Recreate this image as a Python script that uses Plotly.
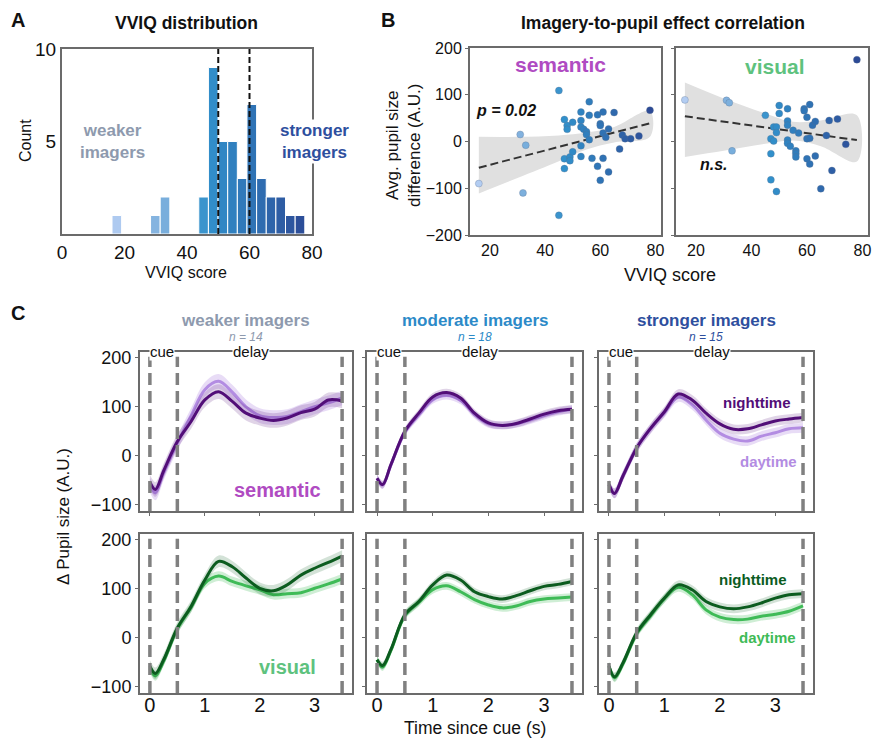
import plotly.graph_objects as go

W, H = 872, 738
FONT = "Liberation Sans, Arial, sans-serif"

# ---------------- Panel A data: VVIQ histogram ----------------
vviq_bin_start = 16.0
vviq_bin_width = 3.085
vviq_counts = [1, 0, 0, 0, 1, 2, 0, 0, 0, 2, 9, 5, 5, 3, 7, 3, 2, 2, 1, 1]
group_cutoffs = [50, 60]

# ---------------- Panel B data: scatter + regression ----------------
sem_vviq = [16, 31, 33, 32, 45, 45, 47, 48, 48, 47, 47, 49, 49, 50, 50, 53, 53, 53, 54, 55,
            55, 53, 53, 56, 56, 56, 57, 59, 59, 60, 60, 60, 61, 61, 61, 62, 63, 63, 65, 67,
            68, 69, 71, 74, 78]
sem_diff = [-90, 15, -8, -110, 109, -158, 47, 34, 26, -37, -58, -33, -41, 41, -22, 63, 45, 31, 26, 21,
            15, -9, -32, 85, 56, 4, -36, 57, -53, 38, 34, -83, 63, 18, -36, 9, 27, -65, 62, -16,
            14, 6, 6, 12, 67]
sem_fit_x = [16, 78]
sem_fit_y = [-56, 39]
sem_ci_x = [16, 30, 45, 55, 65, 78]
sem_ci_hi = [10, 10, 13, 19, 31, 65]
sem_ci_lo = [-111, -78, -42, -17, -2, 10]

vis_vviq = [16, 31, 32, 33, 45, 50, 50, 53, 53, 53, 48, 49, 47, 48, 47, 47, 49, 53, 53, 54,
            56, 56, 56, 55, 57, 59, 59, 60, 61, 60, 61, 60, 61, 62, 63, 63, 65, 67, 68, 69,
            71, 74, 78, 49]
vis_diff = [89, 88, 83, -20, 56, 77, 60, 70, 44, 35, 31, 31, 6, 1, -26, -82, -107, 3, -4, -10,
            -20, -26, -33, 24, 18, 70, 66, 52, 79, 6, 7, -37, -48, 35, 43, -31, -101, 13, 45, -62,
            48, -6, 175, 19]
vis_fit_x = [16, 78]
vis_fit_y = [54, 3]
vis_ci_x = [16, 30, 45, 55, 65, 78]
vis_ci_hi = [126, 92, 60, 42, 45, 56]
vis_ci_lo = [-33, -20, -5, 2, -10, -43]

# ---------------- Panel C data: pupil time courses ----------------
time_s = [0, 0.1, 0.25, 0.5, 0.75, 1.0, 1.25, 1.5, 1.75, 2.0, 2.25, 2.5, 2.75, 3.0, 3.25, 3.5]
event_times = [0, 0.5, 3.5]
groups = ["weaker imagers", "moderate imagers", "stronger imagers"]
group_n = [14, 18, 15]

sem_night = [
    [-54, -69, -31, 29, 70, 114, 131, 111, 87, 77, 72, 77, 88, 95, 114, 112],
    [-46, -59, -18, 50, 87, 120, 129, 118, 87, 67, 62, 66, 75, 85, 92, 95],
    [-59, -77, -42, 16, 56, 90, 126, 114, 87, 65, 54, 55, 63, 71, 75, 78],
]
sem_day = [
    [-60, -76, -35, 26, 82, 135, 152, 130, 100, 82, 78, 80, 90, 100, 108, 118],
    [-46, -60, -19, 48, 83, 114, 123, 113, 84, 65, 62, 65, 73, 82, 90, 95],
    [-59, -77, -42, 16, 55, 88, 120, 104, 73, 46, 34, 30, 40, 47, 55, 57],
]
vis_night = [
    [-58, -73, -45, 20, 64, 118, 156, 145, 122, 101, 96, 108, 128, 142, 154, 167],
    [-45, -57, -24, 47, 74, 108, 128, 118, 94, 84, 79, 86, 96, 105, 109, 115],
    [-58, -80, -52, 10, 47, 81, 108, 98, 74, 63, 59, 63, 71, 81, 88, 90],
]
vis_day = [
    [-62, -78, -48, 18, 62, 111, 126, 115, 106, 98, 88, 90, 92, 101, 110, 120],
    [-45, -60, -26, 45, 72, 98, 106, 94, 78, 67, 61, 65, 74, 79, 81, 83],
    [-58, -82, -54, 8, 45, 80, 103, 88, 57, 42, 37, 38, 44, 48, 54, 65],
]
sem_night_err = [15, 8, 10]
sem_day_err = [15, 8, 10]
vis_night_err = [12, 8, 9]
vis_day_err = [10, 8, 9]

# ---------------- helpers ----------------
def fx(p):
    return p / W

def fy(p):
    return 1 - p / H

FRAME = "#6b6b6b"
BLUES = [[0, "#b3cdf2"], [0.25, "#80b1de"], [0.5, "#3190cb"], [0.75, "#2f6fb2"], [1, "#2c4a96"]]
SEM_N, SEM_D = "#520e78", "#b38ce2"
VIS_N, VIS_D = "#0c5c1f", "#3fbb57"

def axis_style(**kw):
    d = dict(showline=True, mirror=True, linecolor=FRAME, linewidth=2, showgrid=False,
             zeroline=False, ticks="", tickfont=dict(family=FONT, size=16, color="#111"),
             fixedrange=True, automargin=False)
    d.update(kw)
    return d

fig = go.Figure()
layout = {}
annotations = []
shapes = []

def ann(text, x, y, size=16, color="#111", **kw):
    a = dict(text=text, x=fx(x), y=fy(y), xref="paper", yref="paper", showarrow=False,
             font=dict(family=FONT, size=size, color=color), xanchor="center", yanchor="middle")
    a.update(kw)
    annotations.append(a)

# ---------------- Panel A ----------------
centers = [vviq_bin_start + (i + 0.5) * vviq_bin_width for i in range(len(vviq_counts))]
fig.add_trace(go.Bar(
    x=centers, y=vviq_counts, width=vviq_bin_width,
    marker=dict(color=centers, colorscale=BLUES, cmin=16, cmax=78,
                line=dict(color="white", width=1)),
    xaxis="x", yaxis="y", showlegend=False))
layout["xaxis"] = axis_style(domain=[fx(62), fx(312)], range=[0, 80], anchor="y",
                             tickvals=[0, 20, 40, 60, 80], tickfont=dict(family=FONT, size=19, color="#111"))
layout["yaxis"] = axis_style(domain=[fy(234), fy(49)], range=[0, 10], anchor="x",
                             tickvals=[5, 10], tickfont=dict(family=FONT, size=19, color="#111"))
for c in group_cutoffs:
    shapes.append(dict(type="line", xref="x", yref="y domain", x0=c, x1=c, y0=0, y1=1,
                       line=dict(color="#111", width=2, dash="6px,3px")))

ann("<b>A</b>", 18, 20, size=20, color="#111")
ann("<b>VVIQ distribution</b>", 186, 23, size=17.5)
ann("Count", 25, 141, size=16, textangle=-90)
ann("VVIQ score", 186, 272, size=16)
ann("<b>weaker<br>imagers</b>", 112, 141, size=17, color="#8e9aae")
ann("<b>stronger<br>imagers</b>", 314, 141, size=17, color="#2e4f9e", bgcolor="white")

# ---------------- Panel B ----------------
def reg_panel(xa, ya, vx, vy, fitx, fity, cix, cihi, cilo):
    fig.add_trace(go.Scatter(x=cix + cix[::-1], y=cihi + cilo[::-1], fill="toself",
                             fillcolor="#e0e0e0", line=dict(width=0, shape="spline"),
                             mode="lines", xaxis=xa, yaxis=ya, showlegend=False, hoverinfo="skip"))
    fig.add_trace(go.Scatter(x=fitx, y=fity, mode="lines",
                             line=dict(color="#333", width=2, dash="8px,4px"),
                             xaxis=xa, yaxis=ya, showlegend=False))
    fig.add_trace(go.Scatter(x=vx, y=vy, mode="markers",
                             marker=dict(size=7, color=vx, colorscale=BLUES, cmin=16, cmax=78,
                                         line=dict(color="rgba(90,110,140,0.6)", width=0.5)),
                             xaxis=xa, yaxis=ya, showlegend=False))

reg_panel("x2", "y2", sem_vviq, sem_diff, sem_fit_x, sem_fit_y, sem_ci_x, sem_ci_hi, sem_ci_lo)
reg_panel("x3", "y3", vis_vviq, vis_diff, vis_fit_x, vis_fit_y, vis_ci_x, vis_ci_hi, vis_ci_lo)

b_tick = dict(family=FONT, size=16, color="#111")
layout["xaxis2"] = axis_style(domain=[fx(470), fx(661)], range=[12.8, 82], anchor="y2",
                              tickvals=[20, 40, 60, 80], tickfont=b_tick)
layout["yaxis2"] = axis_style(domain=[fy(235), fy(48)], range=[-200, 200], anchor="x2",
                              tickvals=[-200, -100, 0, 100, 200], tickfont=b_tick,
                              ticks="outside", ticklen=3, tickcolor=FRAME)
layout["xaxis3"] = axis_style(domain=[fx(676), fx(868)], range=[12.8, 82], anchor="y3",
                              tickvals=[20, 40, 60, 80], tickfont=b_tick)
layout["yaxis3"] = axis_style(domain=[fy(235), fy(48)], range=[-200, 200], anchor="x3",
                              tickvals=[-200, -100, 0, 100, 200], showticklabels=False,
                              ticks="outside", ticklen=3, tickcolor=FRAME)

ann("<b>B</b>", 388, 20, size=20)
ann("<b>Imagery-to-pupil effect correlation</b>", 663, 23, size=17.5)
ann("Avg. pupil size<br>difference (A.U.)", 404, 146, size=17, textangle=-90)
ann("VVIQ score", 670, 275, size=18)
ann("<b>semantic</b>", 560, 64, size=21, color="#b04bc2")
ann("<b><i>p = 0.02</i></b>", 506, 111, size=16)
ann("<b>visual</b>", 775, 66, size=21, color="#5ec27e")
ann("<b><i>n.s.</i></b>", 714, 164, size=16)

# ---------------- Panel C ----------------
col_px = [(140, 352), (367, 582), (599, 813)]
row_px = [(352, 511), (534, 693)]
group_colors = ["#8e9aae", "#2c8ac8", "#2e4f9e"]

def band(xa, ya, t, y, err, fillcolor):
    lo = [v - err for v in y]
    hi = [v + err for v in y]
    fig.add_trace(go.Scatter(x=t, y=lo, mode="lines", line=dict(width=0, shape="spline"),
                             xaxis=xa, yaxis=ya, showlegend=False, hoverinfo="skip"))
    fig.add_trace(go.Scatter(x=t, y=hi, mode="lines", line=dict(width=0, shape="spline"),
                             fill="tonexty", fillcolor=fillcolor,
                             xaxis=xa, yaxis=ya, showlegend=False, hoverinfo="skip"))

ax_i = 4
for r in range(2):
    for c in range(3):
        xa, ya = f"x{ax_i}", f"y{ax_i}"
        if r == 0:
            yd, yn, ed, en = sem_day[c], sem_night[c], sem_day_err[c], sem_night_err[c]
            cd, cn = SEM_D, SEM_N
            fd, fn = "rgba(179,140,226,0.30)", "rgba(82,14,120,0.18)"
        else:
            yd, yn, ed, en = vis_day[c], vis_night[c], vis_day_err[c], vis_night_err[c]
            cd, cn = VIS_D, VIS_N
            fd, fn = "rgba(63,187,87,0.25)", "rgba(12,92,31,0.18)"
        band(xa, ya, time_s, yd, ed, fd)
        fig.add_trace(go.Scatter(x=time_s, y=yd, mode="lines", line=dict(color=cd, width=3, shape="spline"),
                                 xaxis=xa, yaxis=ya, showlegend=False))
        band(xa, ya, time_s, yn, en, fn)
        fig.add_trace(go.Scatter(x=time_s, y=yn, mode="lines", line=dict(color=cn, width=3, shape="spline"),
                                 xaxis=xa, yaxis=ya, showlegend=False))
        for et in event_times:
            shapes.append(dict(type="line", xref=xa, yref=f"{ya} domain", x0=et, x1=et, y0=0, y1=0.97,
                               line=dict(color="#808080", width=3.5, dash="12px,6px")))
        xk = "xaxis" + str(ax_i)
        yk = "yaxis" + str(ax_i)
        if r == 0:
            xticks = dict(ticks="outside", ticklen=3, tickcolor=FRAME)
        else:
            xticks = dict(ticks="", ticklabelstandoff=-7)
        layout[xk] = axis_style(domain=[fx(col_px[c][0]), fx(col_px[c][1])], range=[-0.18, 3.68],
                                anchor=ya, tickvals=[0, 1, 2, 3], showticklabels=(r == 1),
                                tickfont=dict(family=FONT, size=20, color="#111"), **xticks)
        layout[yk] = axis_style(domain=[fy(row_px[r][1]), fy(row_px[r][0])], range=[-113, 212],
                                anchor=xa, tickvals=[-100, 0, 100, 200], showticklabels=(c == 0),
                                tickfont=dict(family=FONT, size=18, color="#111"),
                                ticks="outside", ticklen=3, tickcolor=FRAME)
        ax_i += 1

for c in range(3):
    cx = (col_px[c][0] + col_px[c][1]) / 2
    ann(f"<b>{groups[c]}</b>", cx, 320, size=17, color=group_colors[c])
    ann(f"<i>n = {group_n[c]}</i>", cx, 337, size=12, color=group_colors[c])
    x0 = col_px[c][0]
    scale = (col_px[c][1] - col_px[c][0]) / 3.86
    ann("cue", x0 + (0.22 + 0.18) * scale, 352, size=15, bgcolor="white", borderpad=0)
    ann("delay", x0 + (1.85 + 0.18) * scale, 352, size=15, bgcolor="white", borderpad=0)

ann("<b>C</b>", 18, 313, size=20)
ann("<b>semantic</b>", 277, 490, size=20, color="#b04bc2")
ann("<b>visual</b>", 287, 667, size=20, color="#5ec27e")
ann("<b>nighttime</b>", 757, 402, size=15, color=SEM_N)
ann("<b>daytime</b>", 768, 461, size=15, color=SEM_D)
ann("<b>nighttime</b>", 753, 579, size=15, color=VIS_N)
ann("<b>daytime</b>", 767, 637, size=15, color=VIS_D)
ann("Δ Pupil size (A.U.)", 63, 517, size=17, textangle=-90)
ann("Time since cue (s)", 475, 728, size=17.5)

fig.update_layout(
    template="none",
    width=W, height=H, margin=dict(l=0, r=0, t=0, b=0, autoexpand=False),
    paper_bgcolor="white", plot_bgcolor="white",
    font=dict(family=FONT, color="#111"),
    annotations=annotations, shapes=shapes, showlegend=False, bargap=0,
    **layout,
)

# remove the browser's default 8px body margin so the figure fills the window exactly
fig.write_html("out.html", config={"displayModeBar": False, "staticPlot": True},
               post_script="document.body.style.margin='0';document.body.style.overflow='hidden';")
